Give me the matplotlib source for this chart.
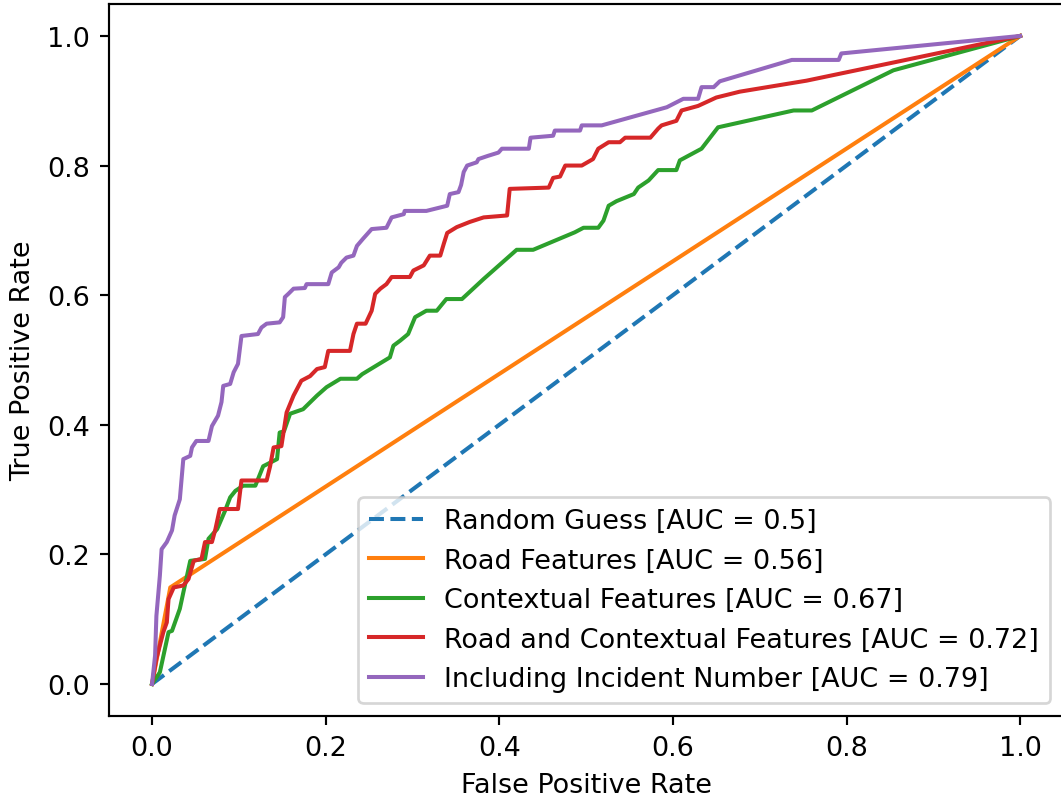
import matplotlib
matplotlib.use("Agg")
import matplotlib.pyplot as plt

# ── data ──────────────────────────────────────────────────────────────────────
random_fpr = [0.0, 1.0]
random_tpr = [0.0, 1.0]

road_fpr = [0.0, 0.021, 1.0]
road_tpr = [0.0, 0.149, 1.0]

ctx_fpr = [0.0, 0.009, 0.019, 0.023, 0.032, 0.036, 0.044, 0.061, 0.065, 0.075,
           0.084, 0.090, 0.096, 0.105, 0.119, 0.128, 0.144, 0.147, 0.152, 0.159,
           0.174, 0.190, 0.201, 0.217, 0.236, 0.242, 0.274, 0.278, 0.286, 0.295,
           0.303, 0.316, 0.328, 0.339, 0.357, 0.382, 0.420, 0.439, 0.487, 0.497,
           0.514, 0.520, 0.526, 0.535, 0.555, 0.560, 0.572, 0.583, 0.604, 0.608,
           0.633, 0.652, 0.739, 0.760, 0.854, 1.0]
ctx_tpr = [0.0, 0.018, 0.080, 0.082, 0.116, 0.141, 0.190, 0.193, 0.224, 0.239,
           0.267, 0.288, 0.298, 0.306, 0.306, 0.336, 0.347, 0.388, 0.390, 0.417,
           0.424, 0.445, 0.458, 0.471, 0.471, 0.478, 0.504, 0.522, 0.530, 0.540,
           0.566, 0.576, 0.576, 0.594, 0.594, 0.625, 0.670, 0.670, 0.697, 0.704,
           0.704, 0.715, 0.738, 0.745, 0.756, 0.766, 0.777, 0.793, 0.793, 0.808,
           0.826, 0.859, 0.885, 0.885, 0.947, 1.0]

both_fpr = [0.0, 0.005, 0.013, 0.017, 0.019, 0.025, 0.036, 0.042, 0.048, 0.057,
            0.061, 0.069, 0.073, 0.078, 0.099, 0.103, 0.132, 0.136, 0.140, 0.149,
            0.155, 0.163, 0.172, 0.182, 0.190, 0.199, 0.203, 0.228, 0.232, 0.236,
            0.246, 0.253, 0.257, 0.263, 0.270, 0.276, 0.297, 0.301, 0.313, 0.320,
            0.332, 0.336, 0.340, 0.351, 0.366, 0.382, 0.409, 0.412, 0.457, 0.462,
            0.470, 0.476, 0.495, 0.508, 0.514, 0.526, 0.539, 0.545, 0.574, 0.583,
            0.587, 0.604, 0.610, 0.629, 0.650, 0.677, 0.754, 0.854, 1.0]
both_tpr = [0.0, 0.039, 0.080, 0.095, 0.131, 0.149, 0.152, 0.162, 0.190, 0.193,
            0.219, 0.219, 0.239, 0.270, 0.270, 0.314, 0.314, 0.336, 0.365, 0.367,
            0.419, 0.445, 0.468, 0.475, 0.486, 0.489, 0.514, 0.514, 0.540, 0.556,
            0.556, 0.576, 0.602, 0.610, 0.617, 0.628, 0.628, 0.638, 0.646, 0.661,
            0.661, 0.679, 0.696, 0.705, 0.713, 0.720, 0.723, 0.764, 0.766, 0.781,
            0.783, 0.800, 0.800, 0.810, 0.826, 0.836, 0.836, 0.843, 0.843, 0.857,
            0.862, 0.869, 0.885, 0.892, 0.905, 0.914, 0.931, 0.959, 1.0]

inc_fpr = [0.0, 0.0035, 0.005, 0.009, 0.011, 0.017, 0.023, 0.026, 0.032, 0.036,
           0.044, 0.046, 0.051, 0.065, 0.069, 0.076, 0.080, 0.082, 0.090, 0.094,
           0.099, 0.103, 0.122, 0.126, 0.132, 0.147, 0.151, 0.153, 0.157, 0.163,
           0.176, 0.178, 0.203, 0.207, 0.215, 0.218, 0.224, 0.232, 0.236, 0.243,
           0.253, 0.270, 0.276, 0.290, 0.291, 0.316, 0.340, 0.343, 0.353, 0.356,
           0.359, 0.363, 0.374, 0.376, 0.387, 0.399, 0.403, 0.434, 0.436, 0.462,
           0.464, 0.493, 0.495, 0.518, 0.593, 0.612, 0.629, 0.633, 0.647, 0.654,
           0.737, 0.791, 0.794, 1.0]
inc_tpr = [0.0, 0.044, 0.105, 0.167, 0.208, 0.219, 0.237, 0.260, 0.285, 0.347,
           0.352, 0.365, 0.375, 0.375, 0.398, 0.414, 0.435, 0.460, 0.463, 0.481,
           0.494, 0.537, 0.540, 0.550, 0.556, 0.558, 0.566, 0.597, 0.602, 0.610,
           0.611, 0.617, 0.617, 0.635, 0.643, 0.650, 0.658, 0.661, 0.676, 0.687,
           0.702, 0.704, 0.720, 0.725, 0.730, 0.730, 0.738, 0.756, 0.759, 0.770,
           0.790, 0.800, 0.805, 0.810, 0.815, 0.820, 0.826, 0.826, 0.843, 0.846,
           0.854, 0.854, 0.862, 0.862, 0.890, 0.903, 0.903, 0.921, 0.921, 0.930,
           0.963, 0.963, 0.973, 1.0]

labels = [
    "Random Guess [AUC = 0.5]",
    "Road Features [AUC = 0.56]",
    "Contextual Features [AUC = 0.67]",
    "Road and Contextual Features [AUC = 0.72]",
    "Including Incident Number [AUC = 0.79]",
]

# ── plot ──────────────────────────────────────────────────────────────────────
DPI = 194
fig = plt.figure(figsize=(1061 / DPI, 797 / DPI), dpi=DPI)
ax = fig.add_axes([0.1024, 0.0999, 0.9, 0.8944])

ax.plot(random_fpr, random_tpr, ls="--", label=labels[0])
ax.plot(road_fpr, road_tpr, label=labels[1])
ax.plot(ctx_fpr, ctx_tpr, label=labels[2])
ax.plot(both_fpr, both_tpr, label=labels[3])
ax.plot(inc_fpr, inc_tpr, label=labels[4])

ax.set_xlim(-0.05, 1.05)
ax.set_ylim(-0.05, 1.05)
ax.set_xlabel("False Positive Rate")
ax.set_ylabel("True Positive Rate")
ax.legend(loc="lower right")

fig.savefig("out.png", dpi=DPI)
